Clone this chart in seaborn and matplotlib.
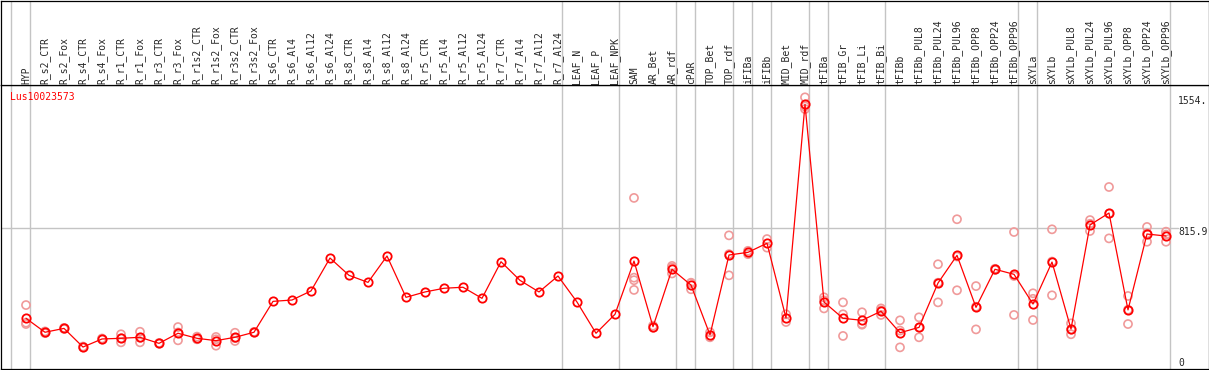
import numpy as np
import pandas as pd
import matplotlib
matplotlib.use("Agg")
import matplotlib.pyplot as plt
import seaborn as sns

sns.set_style("white")
plt.rcParams['font.family'] = ['DejaVu Sans Mono', 'DejaVu Sans']

gene = "Lus10023573"

samples = ['HYP', 'R_s2_CTR', 'R_s2_Fox', 'R_s4_CTR', 'R_s4_Fox', 'R_r1_CTR', 'R_r1_Fox',
           'R_r3_CTR', 'R_r3_Fox', 'R_r1s2_CTR', 'R_r1s2_Fox', 'R_r3s2_CTR', 'R_r3s2_Fox',
           'R_s6_CTR', 'R_s6_Al4', 'R_s6_Al12', 'R_s6_Al24', 'R_s8_CTR', 'R_s8_Al4',
           'R_s8_Al12', 'R_s8_Al24', 'R_r5_CTR', 'R_r5_Al4', 'R_r5_Al12', 'R_r5_Al24',
           'R_r7_CTR', 'R_r7_Al4', 'R_r7_Al12', 'R_r7_Al24', 'LEAF_N', 'LEAF_P', 'LEAF_NPK',
           'SAM', 'AR_Bet', 'AR_rdf', 'cPAR', 'TOP_Bet', 'TOP_rdf', 'iFIBa', 'iFIBb',
           'MID_Bet', 'MID_rdf', 'tFIBa', 'tFIB_Gr', 'tFIB_Li', 'tFIB_Bi', 'tFIBb',
           'tFIBb_PUL8', 'tFIBb_PUL24', 'tFIBb_PUL96', 'tFIBb_OPP8', 'tFIBb_OPP24',
           'tFIBb_OPP96', 'sXYLa', 'sXYLb', 'sXYLb_PUL8', 'sXYLb_PUL24', 'sXYLb_PUL96',
           'sXYLb_OPP8', 'sXYLb_OPP24', 'sXYLb_OPP96']

# mean expression per sample
means = [278, 195, 218, 107, 155, 159, 165, 129, 189, 159, 145, 165, 195,
         379, 387, 441, 637, 534, 492, 649, 403, 435, 457, 463, 397,
         615, 504, 435, 530, 375, 189, 302,
         619, 228, 570, 476, 179, 655, 671, 725, 280, 1552,
         375, 278, 266, 320, 192, 224, 488, 653, 343, 570, 540,
         363, 613, 214, 834, 905, 328, 780, 768]

# individual replicates
replicates = [[357, 252, 244], [190, 200], [215, 221], [105, 110], [152, 158],
              [183, 135, 159], [198, 135, 162], [127, 131], [226, 147, 194],
              [169, 155, 153], [115, 153, 167], [192, 143, 160], [193, 197],
              [], [], [], [], [], [], [], [], [], [], [], [], [], [], [], [], [], [], [],
              [995, 520, 447, 505], [222, 234], [590, 580, 545], [490, 451, 487],
              [195, 165], [772, 534, 660], [680, 660], [750, 699], [302, 256],
              [1594, 1524, 1540],
              [403, 337, 385], [373, 302, 173], [314, 244, 240], [337, 298, 325],
              [266, 105, 205], [284, 165, 223], [600, 373, 490], [868, 445, 646],
              [470, 212, 347], [567, 573, 570], [792, 298, 530],
              [427, 268, 394], [808, 415, 616], [248, 183, 211], [863, 798, 841],
              [1060, 754, 901], [411, 244, 329], [822, 734, 784], [794, 734, 776]]

# last sample of each group (-1 = left edge)
group_ends = [-1, 0, 28, 31, 34, 35, 37, 38, 39, 41, 42, 45, 52, 53, 60]

ref_lines = [1554, 815.9, 0]
ref_labels = ['1554.', '815.9', '0']

mean_df = pd.DataFrame({'pos': np.arange(len(samples)), 'val': means})
rep_df = pd.DataFrame([(i, v) for i, r in enumerate(replicates) for v in r],
                      columns=['pos', 'val'])

W, H = 1209, 370
fig = plt.figure(figsize=(W / 100, H / 100), dpi=100)
ax = fig.add_axes([1 / W, 1 / H, 1207.5 / W, 284 / H])
axh = fig.add_axes([1 / W, 285 / H, 1207.5 / W, 84.5 / H], sharex=ax)

px = 5.955  # value units per pixel
ax.set_xlim((1 - 26) / 19, (1208.5 - 26) / 19)
ax.set_ylim(-4 * px, 280 * px)
axh.set_ylim(0, 85)

grid_c = '#c4c4c4'
for g in group_ends:
    ax.axvline(g + 0.22, color=grid_c, lw=1.0, zorder=0)
    axh.axvline(g + 0.22, color=grid_c, lw=1.0, zorder=0)
ax.axhline(815.9, xmax=(1178 - 1) / 1207.5, color=grid_c, lw=1.0, zorder=0)

sns.scatterplot(data=rep_df, x='pos', y='val', ax=ax, marker='o', s=34,
                facecolor='none', edgecolor='#f09a9a', linewidth=1.2,
                legend=False, zorder=2)
sns.lineplot(data=mean_df, x='pos', y='val', ax=ax, color='#ff0000', lw=0.9,
             marker='o', markersize=6, markerfacecolor='none',
             markeredgecolor='#ff0000', markeredgewidth=1.3, zorder=3)

for i, s in enumerate(samples):
    axh.text(i, 1, s, rotation=90, ha='center', va='bottom', fontsize=7)

offs = {'1554.': -2.7, '815.9': 4.5, '0': -2.3}
for v, lab in zip(ref_lines, ref_labels):
    ax.text((1178 - 26) / 19, v - offs[lab] * px, lab, ha='left', va='center', fontsize=7)

ax.text((10 - 26) / 19, (365 - 97.5) * px, gene, color='#ff0000', ha='left',
        va='center', fontsize=7)

for a in (ax, axh):
    a.set_xticks([])
    a.set_yticks([])
    a.set_xlabel('')
    a.set_ylabel('')
    for sp in a.spines.values():
        sp.set_color('black')
        sp.set_linewidth(0.9)

fig.savefig('out.png', dpi=100)
